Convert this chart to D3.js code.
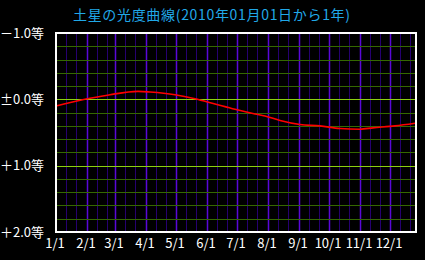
<!DOCTYPE html>
<html lang="ja">
<head>
<meta charset="UTF-8">
<title>土星の光度曲線</title>
<script src="https://d3js.org/d3.v7.min.js"></script>
<style>
    html, body { margin: 0; padding: 0; background: #000; }
    svg { display: block; }
    text { font-family: "Noto Sans CJK JP", "DejaVu Sans", sans-serif; }
</style>
</head>
<body>
<div id="chart"></div>
<script>
// 日付 (2010年, 1/1 からの日数) と等級
var days = [0, 34, 54, 82, 94, 119, 139, 159, 179, 199, 209, 224, 244, 264, 284, 304, 317, 339, 359];
var mags = [0.10, -0.015, -0.07, -0.12, -0.11, -0.07, -0.01, 0.07, 0.15, 0.22, 0.25, 0.32, 0.38, 0.40, 0.44, 0.45, 0.43, 0.40, 0.36];

var monthLabels = ["1/1", "2/1", "3/1", "4/1", "5/1", "6/1", "7/1", "8/1", "9/1", "10/1", "11/1", "12/1"];
var monthStart = [0, 31, 59, 90, 120, 151, 181, 212, 243, 273, 304, 334];
var magTicks = [-1, 0, 1, 2];
var magLabels = ["－1.0等", "±0.0等", "＋1.0等", "＋2.0等"];

var W = 425, H = 260;
var svg = d3.select("#chart").append("svg")
    .attr("width", W)
    .attr("height", H);

svg.append("rect").attr("width", W).attr("height", H).attr("fill", "#000");

var x = d3.scaleLinear().domain([0, 360]).range([56, 416]);
var y = d3.scaleLinear().domain([-1, 2]).range([33, 232]);

// 縦の格子 (1日, 11日, 21日)
var vlines = [];
monthStart.forEach(function(d) {
    vlines.push({ d: d, major: true });
    vlines.push({ d: d + 10, major: false });
    vlines.push({ d: d + 20, major: false });
});
vlines = vlines.filter(function(v) { return v.d > 0 && v.d < 360; });

svg.selectAll(".vgrid")
    .data(vlines)
    .enter().append("line")
    .attr("class", "vgrid")
    .attr("x1", function(v) { return Math.round(x(v.d)) + 0.5; })
    .attr("x2", function(v) { return Math.round(x(v.d)) + 0.5; })
    .attr("y1", y(-1))
    .attr("y2", y(2))
    .attr("stroke", function(v) { return v.major ? "#5a08d8" : "#260070"; })
    .attr("stroke-width", function(v) { return v.major ? 1.5 : 1; });

// 横の格子 (0.2等ごと)
var hlines = d3.range(-0.8, 1.9, 0.2).map(function(m) { return Math.round(m * 10) / 10; });

svg.selectAll(".hgrid")
    .data(hlines)
    .enter().append("line")
    .attr("class", "hgrid")
    .attr("x1", x(0))
    .attr("x2", x(360))
    .attr("y1", function(m) { return Math.round(y(m)) + 0.5; })
    .attr("y2", function(m) { return Math.round(y(m)) + 0.5; })
    .attr("stroke", function(m) { return (m === 0 || m === 1) ? "#8cd010" : "#346800"; })
    .attr("stroke-width", 1);

// 光度曲線
var pts = days.map(function(d, i) { return [d, mags[i]]; });
var line = d3.line()
    .x(function(p) { return x(p[0]); })
    .y(function(p) { return y(p[1]); })
    .curve(d3.curveMonotoneX);

svg.append("path")
    .datum(pts)
    .attr("d", line)
    .attr("fill", "none")
    .attr("stroke", "#ff0000")
    .attr("stroke-width", 1.6);

// 枠
svg.append("rect")
    .attr("x", x(0))
    .attr("y", y(-1))
    .attr("width", x(360) - x(0))
    .attr("height", y(2) - y(-1))
    .attr("fill", "none")
    .attr("stroke", "#fff")
    .attr("stroke-width", 2);

// 縦軸ラベル
svg.selectAll(".ylab")
    .data(magTicks)
    .enter().append("text")
    .attr("class", "ylab")
    .attr("x", 44)
    .attr("y", function(m) { return y(m); })
    .attr("dy", "0.36em")
    .attr("text-anchor", "end")
    .attr("font-size", 13)
    .attr("fill", "#fff")
    .text(function(m, i) { return magLabels[i]; });

// 横軸ラベル
svg.selectAll(".xlab")
    .data(monthStart)
    .enter().append("text")
    .attr("class", "xlab")
    .attr("x", function(d) { return x(d) - 1; })
    .attr("y", 243)
    .attr("dy", "0.36em")
    .attr("text-anchor", "middle")
    .attr("font-size", 13)
    .attr("fill", "#fff")
    .text(function(d, i) { return monthLabels[i]; });

// タイトル
svg.append("text")
    .attr("x", 73)
    .attr("y", 15)
    .attr("dy", "0.36em")
    .attr("textLength", 277)
    .attr("lengthAdjust", "spacing")
    .attr("font-size", 14)
    .attr("fill", "#20a8e8")
    .text("土星の光度曲線(2010年01月01日から1年)");
</script>
</body>
</html>
